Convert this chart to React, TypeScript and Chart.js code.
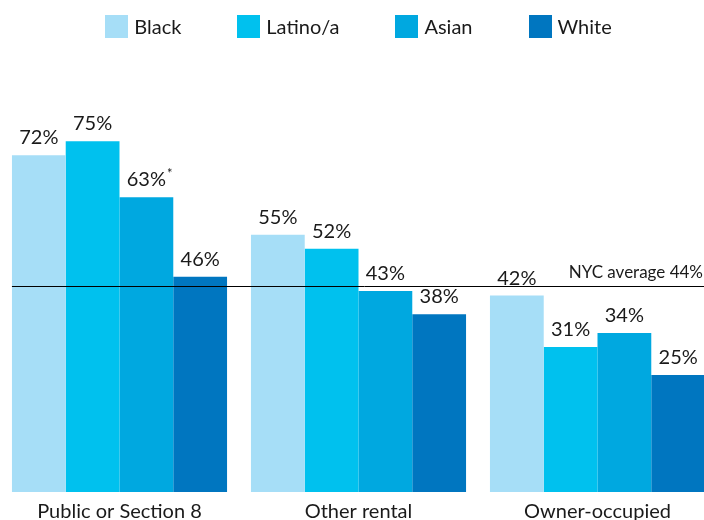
import React, { useEffect, useRef } from "react";
import { Chart, registerables } from "chart.js";

Chart.register(...registerables);

const categories = ["Public or Section 8", "Other rental", "Owner-occupied"];
const seriesNames = ["Black", "Latino/a", "Asian", "White"];
const blackValues = [72, 55, 42];
const latinoValues = [75, 52, 31];
const asianValues = [63, 43, 34];
const whiteValues = [46, 38, 25];
const seriesColors = ["#a6def7", "#00c1ee", "#00a8e0", "#0076c0"];
const footnoteMarks = [["", "", ""], ["", "", ""], ["*", "", ""], ["", "", ""]];
const averageValue = 44;
const averageLabel = "NYC average 44%";

const FONT = "Lato";
const TEXT = "#1a1a1a";

const overlay = {
  id: "overlay",
  afterDraw(chart: any) {
    const ctx = chart.ctx;
    ctx.save();
    // legend
    ctx.font = `20px ${FONT}`;
    const box = 23;
    const gapText = 6;
    const gapItem = 56;
    const widths = chart.data.datasets.map(
      (ds: any) => box + gapText + ctx.measureText(ds.label).width
    );
    const total =
      widths.reduce((a: number, b: number) => a + b, 0) + gapItem * (widths.length - 1);
    let x = chart.width / 2 - total / 2;
    const cy = 26.5;
    chart.data.datasets.forEach((ds: any, i: number) => {
      ctx.fillStyle = ds.backgroundColor;
      ctx.fillRect(Math.round(x), Math.round(cy - box / 2), box, box);
      ctx.fillStyle = TEXT;
      ctx.textAlign = "left";
      ctx.textBaseline = "middle";
      ctx.fillText(ds.label, x + box + gapText, cy + 1);
      x += widths[i] + gapItem;
    });

    // value labels
    chart.data.datasets.forEach((ds: any, di: number) => {
      const meta = chart.getDatasetMeta(di);
      meta.data.forEach((bar: any, i: number) => {
        const txt = ds.data[i] + "%";
        ctx.font = `20px ${FONT}`;
        ctx.fillStyle = TEXT;
        ctx.textAlign = "center";
        ctx.textBaseline = "alphabetic";
        const y = bar.y - 11;
        ctx.fillText(txt, bar.x, y);
        const mark = footnoteMarks[di][i];
        if (mark) {
          const w = ctx.measureText(txt).width;
          ctx.font = `13px ${FONT}`;
          ctx.textAlign = "left";
          ctx.fillText(mark, bar.x + w / 2 + 1, y - 8);
        }
      });
    });
    // average line
    const first = chart.getDatasetMeta(0).data[0];
    const yAvg = Math.round(chart.scales.y.getPixelForValue(averageValue)) + 0.5;
    ctx.strokeStyle = "#000";
    ctx.lineWidth = 1;
    ctx.beginPath();
    ctx.moveTo(first.x - first.width / 2, yAvg);
    ctx.lineTo(chart.width, yAvg);
    ctx.stroke();
    ctx.font = `17px ${FONT}`;
    ctx.fillStyle = TEXT;
    ctx.textAlign = "right";
    ctx.textBaseline = "alphabetic";
    ctx.fillText(averageLabel, 703, yAvg - 9);
    ctx.restore();
  },
};

export default function App() {
  const ref = useRef<HTMLCanvasElement>(null);
  useEffect(() => {
    const allValues = [blackValues, latinoValues, asianValues, whiteValues];
    const chart = new Chart(ref.current as HTMLCanvasElement, {
      type: "bar",
      data: {
        labels: categories,
        datasets: seriesNames.map((name, i) => ({
          label: name,
          data: allValues[i],
          backgroundColor: seriesColors[i],
          borderWidth: 0,
          categoryPercentage: 0.9,
          barPercentage: 1.0,
        })),
      },
      options: {
        responsive: false,
        animation: false,
        layout: { padding: { top: 50, left: 0, right: 0, bottom: 0 } },
        plugins: {
          tooltip: { enabled: false },
          legend: { display: false },
        },
        scales: {
          x: {
            grid: { display: false, drawTicks: false },
            border: { display: false },
            ticks: {
              color: TEXT,
              font: { family: FONT, size: 20 },
              padding: 8,
              maxRotation: 0,
            },
            afterFit(scale: any) {
              scale.height = 28;
            },
          },
          y: {
            display: false,
            min: 0,
            max: 94.5,
          },
        },
      },
      plugins: [overlay],
    });
    return () => chart.destroy();
  }, []);
  return (
    <div
      style={{
        position: "fixed",
        left: 0,
        top: 0,
        width: 704,
        height: 520,
        overflow: "hidden",
        background: "#fff",
      }}
    >
      <canvas ref={ref} width={717} height={520} style={{ display: "block" }} />
    </div>
  );
}
